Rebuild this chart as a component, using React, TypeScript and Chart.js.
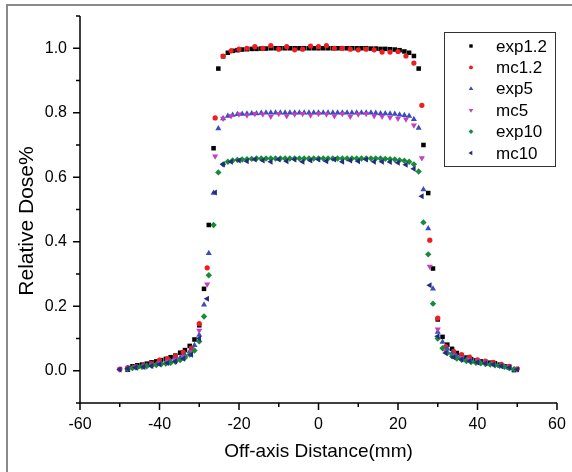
import React, { useEffect, useRef } from "react";
import { Chart, registerables } from "chart.js";
import { drawPoint } from "chart.js/helpers";

Chart.register(...registerables);

const FONT = "'Liberation Sans', Arial, sans-serif";

// Measurement positions (mm)
const expX = [
  -48.0, -46.8, -45.6, -44.4, -43.2, -42.0, -40.8, -39.6, -38.4, -37.2,
  -36.0, -34.8, -33.6, -32.4, -31.2, -30.0, -28.8, -27.6, -26.4, -25.2,
  -24.0, -22.8, -21.6, -20.4, -19.2, -18.0, -16.8, -15.6, -14.4, -13.2,
  -12.0, -10.8, -9.6, -8.4, -7.2, -6.0, -4.8, -3.6, -2.4, -1.2,
  0.0, 1.2, 2.4, 3.6, 4.8, 6.0, 7.2, 8.4, 9.6, 10.8,
  12.0, 13.2, 14.4, 15.6, 16.8, 18.0, 19.2, 20.4, 21.6, 22.8,
  24.0, 25.2, 26.4, 27.6, 28.8, 30.0, 31.2, 32.4, 33.6, 34.8,
  36.0, 37.2, 38.4, 39.6, 40.8, 42.0, 43.2, 44.4, 45.6, 46.8,
  48.0, 49.2,
];

const exp12 = [
  0.003, 0.014, 0.017, 0.019, 0.022, 0.026, 0.029, 0.033, 0.037, 0.042,
  0.047, 0.056, 0.064, 0.077, 0.097, 0.141, 0.254, 0.452, 0.69, 0.937,
  0.975, 0.986, 0.992, 0.994, 0.996, 0.997, 0.998, 0.998, 0.999, 0.999,
  1.0, 1.0, 1.0, 1.0, 1.0, 1.0, 1.0, 1.0, 1.0, 1.0,
  1.0, 1.0, 1.0, 1.0, 1.0, 1.0, 1.0, 1.0, 1.0, 1.0,
  1.0, 0.999, 0.999, 0.998, 0.998, 0.997, 0.996, 0.994, 0.99, 0.986,
  0.976, 0.937, 0.70, 0.551, 0.317, 0.159, 0.105, 0.081, 0.068, 0.055,
  0.047, 0.041, 0.036, 0.032, 0.029, 0.027, 0.025, 0.023, 0.019, 0.014,
  0.012, 0.002,
];

const exp5 = [
  0.004, 0.010, 0.012, 0.014, 0.016, 0.018, 0.020, 0.023, 0.026, 0.030,
  0.034, 0.040, 0.048, 0.060, 0.079, 0.111, 0.205, 0.364, 0.551, 0.751,
  0.782, 0.790, 0.793, 0.795, 0.796, 0.797, 0.798, 0.798, 0.799, 0.80,
  0.80, 0.80, 0.80, 0.80, 0.80, 0.80, 0.80, 0.80, 0.80, 0.80,
  0.80, 0.80, 0.80, 0.80, 0.80, 0.80, 0.80, 0.80, 0.80, 0.80,
  0.80, 0.80, 0.799, 0.798, 0.798, 0.797, 0.796, 0.794, 0.792, 0.790,
  0.780, 0.753, 0.562, 0.441, 0.254, 0.120, 0.089, 0.068, 0.055, 0.046,
  0.040, 0.035, 0.031, 0.028, 0.025, 0.023, 0.021, 0.018, 0.015, 0.012,
  0.008, 0.003,
];

const exp10 = [
  0.005, 0.008, 0.010, 0.012, 0.014, 0.016, 0.018, 0.020, 0.022, 0.025,
  0.028, 0.033, 0.040, 0.050, 0.063, 0.091, 0.168, 0.296, 0.452, 0.615,
  0.640, 0.648, 0.652, 0.654, 0.655, 0.656, 0.657, 0.658, 0.658, 0.658,
  0.658, 0.658, 0.658, 0.658, 0.658, 0.658, 0.658, 0.658, 0.658, 0.658,
  0.658, 0.658, 0.658, 0.658, 0.658, 0.658, 0.658, 0.658, 0.658, 0.658,
  0.658, 0.658, 0.658, 0.658, 0.657, 0.656, 0.655, 0.653, 0.651, 0.648,
  0.640, 0.618, 0.460, 0.361, 0.208, 0.100, 0.070, 0.055, 0.045, 0.038,
  0.034, 0.030, 0.027, 0.025, 0.023, 0.021, 0.019, 0.017, 0.015, 0.012,
  0.008, 0.005,
];

// Monte Carlo positions (mm)
const mcX = [
  -50, -48, -46, -44, -42, -40, -38, -36, -34, -32,
  -30, -28, -26, -24, -22, -20, -18, -16, -14, -12,
  -10, -8, -6, -4, -2, 0, 2, 4, 6, 8,
  10, 12, 14, 16, 18, 20, 22, 24, 26, 28,
  30, 32, 34, 36, 38, 40, 42, 44, 46, 48,
  50,
];

const mc12 = [
  0.005, 0.010, 0.013, 0.017, 0.022, 0.033, 0.037, 0.045, 0.057, 0.070,
  0.146, 0.319, 0.784, 0.976, 0.992, 0.997, 1.0, 1.005, 1.0, 1.008,
  0.997, 1.005, 0.995, 0.997, 1.007, 1.005, 1.008, 1.0, 1.0, 0.997,
  0.995, 0.997, 0.995, 0.988, 0.988, 0.990, 0.976, 0.954, 0.823, 0.405,
  0.163, 0.075, 0.060, 0.050, 0.042, 0.034, 0.030, 0.026, 0.020, 0.014,
  0.006,
];

const mc5 = [
  0.004, 0.008, 0.011, 0.014, 0.018, 0.024, 0.029, 0.035, 0.044, 0.058,
  0.125, 0.268, 0.665, 0.782, 0.790, 0.795, 0.792, 0.797, 0.795, 0.788,
  0.797, 0.790, 0.795, 0.797, 0.792, 0.797, 0.795, 0.790, 0.797, 0.788,
  0.795, 0.797, 0.790, 0.788, 0.785, 0.782, 0.780, 0.761, 0.660, 0.323,
  0.129, 0.060, 0.048, 0.040, 0.034, 0.030, 0.026, 0.022, 0.017, 0.012,
  0.005,
];

const mc10 = [
  0.004, 0.007, 0.010, 0.012, 0.015, 0.020, 0.024, 0.029, 0.037, 0.050,
  0.100, 0.223, 0.553, 0.640, 0.648, 0.652, 0.650, 0.655, 0.652, 0.648,
  0.655, 0.650, 0.655, 0.648, 0.652, 0.655, 0.650, 0.655, 0.648, 0.652,
  0.650, 0.655, 0.648, 0.648, 0.647, 0.645, 0.639, 0.626, 0.541, 0.265,
  0.107, 0.055, 0.042, 0.035, 0.030, 0.026, 0.023, 0.020, 0.015, 0.010,
  0.004,
];

const seriesNames = ["exp1.2", "mc1.2", "exp5", "mc5", "exp10", "mc10"];
const xTickLabels = [-60, -40, -20, 0, 20, 40, 60];
const yTickLabels = [0.0, 0.2, 0.4, 0.6, 0.8, 1.0];
const xTitle = "Off-axis Distance(mm)";
const yTitle = "Relative Dose%";

const styles = [
  { pointStyle: "rect", radius: 3.2, rotation: 0, color: "#000000" },
  { pointStyle: "circle", radius: 2.6, rotation: 0, color: "#f21c1c" },
  { pointStyle: "triangle", radius: 3.5, rotation: 0, color: "#3a4cbf" },
  { pointStyle: "triangle", radius: 3.5, rotation: 180, color: "#c23ec2" },
  { pointStyle: "rectRot", radius: 3.2, rotation: 0, color: "#178a3c" },
  { pointStyle: "triangle", radius: 3.5, rotation: -90, color: "#262a80" },
];

const toPoints = (xs: number[], ys: number[]) => xs.map((x, i) => ({ x, y: ys[i] }));

const decorPlugin = {
  id: "decor",
  afterDraw(chart: any) {
    const ctx = chart.ctx as CanvasRenderingContext2D;
    const xs = chart.scales.x;
    const ys = chart.scales.y;
    const ca = chart.chartArea;
    ctx.save();
    // outer frame (left & top)
    ctx.strokeStyle = "#8a8a8a";
    ctx.lineWidth = 2;
    ctx.beginPath();
    ctx.moveTo(7, 472);
    ctx.lineTo(7, 5);
    ctx.lineTo(572, 5);
    ctx.stroke();

    // axes
    ctx.strokeStyle = "#000";
    ctx.lineWidth = 1.5;
    ctx.beginPath();
    ctx.moveTo(ca.left, ca.top);
    ctx.lineTo(ca.left, ca.bottom);
    ctx.lineTo(ca.right, ca.bottom);
    ctx.stroke();
    ctx.beginPath();
    for (const t of xs.ticks) {
      const v = t.value;
      const major = xTickLabels.some((m) => Math.abs(m - v) < 1e-6);
      const len = major ? 7 : 4;
      const px = xs.getPixelForValue(v);
      ctx.moveTo(px, ca.bottom);
      ctx.lineTo(px, ca.bottom + len);
    }
    for (const t of ys.ticks) {
      const v = t.value;
      const major = yTickLabels.some((m) => Math.abs(m - v) < 1e-6);
      const len = major ? 7 : 4;
      const py = ys.getPixelForValue(v);
      ctx.moveTo(ca.left, py);
      ctx.lineTo(ca.left - len, py);
    }
    ctx.stroke();

    // y title
    ctx.fillStyle = "#000";
    ctx.font = `21px ${FONT}`;
    ctx.textAlign = "center";
    ctx.textBaseline = "middle";
    ctx.save();
    ctx.translate(27, 221);
    ctx.rotate(-Math.PI / 2);
    ctx.fillText(yTitle, 0, 0);
    ctx.restore();

    // x title
    ctx.font = `19px ${FONT}`;
    ctx.fillText(xTitle, (ca.left + ca.right) / 2, 452);

    // legend
    const bx = 444, by = 32, bw = 111, bh = 134;
    ctx.fillStyle = "#fff";
    ctx.fillRect(bx, by, bw, bh);
    ctx.strokeStyle = "#333";
    ctx.lineWidth = 1;
    ctx.strokeRect(bx + 0.5, by + 0.5, bw, bh);
    ctx.font = `17px ${FONT}`;
    ctx.textBaseline = "middle";
    ctx.textAlign = "left";
    seriesNames.forEach((name, i) => {
      const y = 46 + i * 21.4;
      const s = styles[i];
      ctx.fillStyle = s.color;
      ctx.strokeStyle = s.color;
      drawPoint(ctx, { pointStyle: s.pointStyle as any, radius: s.radius * 0.75, rotation: s.rotation, borderWidth: 0 }, 471, y);
      ctx.fillStyle = "#000";
      ctx.fillText(name, 496, y + 1);
    });
    ctx.restore();
  },
};

export default function App() {
  const ref = useRef<HTMLCanvasElement | null>(null);
  useEffect(() => {
    if (!ref.current) return;
    const xsets = [expX, mcX, expX, mcX, expX, mcX];
    const ysets = [exp12, mc12, exp5, mc5, exp10, mc10];
    const datasets = seriesNames.map((name, i) => ({
      label: name,
      data: toPoints(xsets[i], ysets[i]),
      pointStyle: styles[i].pointStyle,
      pointRadius: styles[i].radius,
      pointRotation: styles[i].rotation,
      pointBackgroundColor: styles[i].color,
      pointBorderColor: styles[i].color,
      pointBorderWidth: 0,
      backgroundColor: styles[i].color,
      borderColor: styles[i].color,
      showLine: false,
      order: 6 - i,
    }));
    const chart = new Chart(ref.current, {
      type: "scatter",
      data: { datasets: datasets as any },
      plugins: [decorPlugin],
      options: {
        animation: false,
        responsive: false,
        devicePixelRatio: 1,
        layout: { padding: { left: 0, right: 15, top: 16, bottom: 0 } },
        plugins: { legend: { display: false }, tooltip: { enabled: false } },
        scales: {
          x: {
            type: "linear",
            min: -60,
            max: 60,
            grid: { display: false, drawTicks: false },
            border: { display: false },
            ticks: {
              stepSize: 10,
              autoSkip: false,
              maxRotation: 0,
              padding: 12,
              color: "#000",
              font: { family: FONT, size: 16 },
              callback: (v: any) => {
                const m = xTickLabels.find((t) => Math.abs(t - Number(v)) < 1e-6);
                return m === undefined ? "" : String(m);
              },
            },
            afterFit: (s: any) => {
              s.height = 69;
              s.paddingLeft = 0;
              s.paddingRight = 0;
            },
          },
          y: {
            type: "linear",
            min: -0.1,
            max: 1.1,
            grid: { display: false, drawTicks: false },
            border: { display: false },
            ticks: {
              stepSize: 0.1,
              autoSkip: false,
              padding: 13,
              color: "#000",
              font: { family: FONT, size: 16 },
              callback: (v: any) => {
                const m = yTickLabels.find((t) => Math.abs(t - Number(v)) < 1e-6);
                return m === undefined ? "" : m.toFixed(1);
              },
            },
            afterFit: (s: any) => {
              s.width = 80;
              s.paddingTop = 0;
              s.paddingBottom = 0;
            },
          },
        },
      },
    });
    return () => chart.destroy();
  }, []);
  return (
    <div style={{ position: "fixed", left: 0, top: 0, width: 572, height: 472, background: "#fff" }}>
      <canvas ref={ref} width={572} height={472} style={{ display: "block", width: 572, height: 472 }} />
    </div>
  );
}
